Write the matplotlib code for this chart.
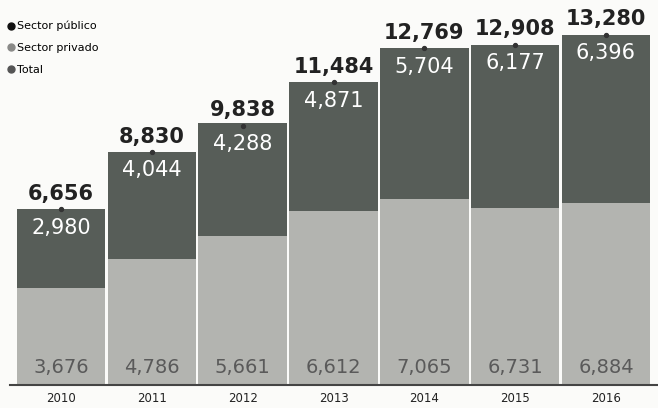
import matplotlib
matplotlib.use("Agg")
from matplotlib import pyplot as plt
from matplotlib.lines import Line2D

years = ["2010", "2011", "2012", "2013", "2014", "2015", "2016"]
sector_privado = [3676, 4786, 5661, 6612, 7065, 6731, 6884]
sector_publico = [2980, 4044, 4288, 4871, 5704, 6177, 6396]
total = [6656, 8830, 9838, 11484, 12769, 12908, 13280]

col_priv = "#b3b4b0"
col_pub = "#575d58"
bg = "#fbfbf9"

fig = plt.figure(figsize=(6.58, 4.08), dpi=100, facecolor=bg)
ax = fig.add_axes([10 / 658, 23 / 408, 648 / 658, 385 / 408], facecolor=bg)

x = list(range(len(years)))
ax.bar(x, sector_privado, width=0.975, color=col_priv, zorder=2)
ax.bar(x, sector_publico, width=0.975, bottom=sector_privado, color=col_pub, zorder=2)
ax.scatter(x, total, s=8, color="#333333", zorder=3)

for i in x:
    ax.annotate(f"{total[i]:,}", xy=(i, total[i]), xytext=(0, 4), textcoords="offset points",
                ha="center", va="bottom", fontsize=15, fontweight="bold", color="#222222")
    ax.annotate(f"{sector_publico[i]:,}", xy=(i, total[i]), xytext=(0, -6), textcoords="offset points",
                ha="center", va="top", fontsize=15, color="white")
    ax.annotate(f"{sector_privado[i]:,}", xy=(i, 0), xytext=(0, 6), textcoords="offset points",
                ha="center", va="bottom", fontsize=14, color="#5a5a5a")

ax.set_xlim(-0.562, 6.573)
ax.set_ylim(0, 14600)
ax.set_xticks(x)
ax.set_xticklabels(years, fontsize=8.5, color="#222222")
ax.tick_params(axis="x", length=0, pad=5)
ax.set_yticks([])
for s in ["top", "right", "left"]:
    ax.spines[s].set_visible(False)
ax.spines["bottom"].set_color("#444444")
ax.spines["bottom"].set_linewidth(1.5)
ax.spines["bottom"].set_zorder(4)

handles = [
    Line2D([], [], marker="o", ls="", color="#111111", markersize=5, label="Sector público"),
    Line2D([], [], marker="o", ls="", color="#8a8a88", markersize=5, label="Sector privado"),
    Line2D([], [], marker="o", ls="", color="#555555", markersize=5, label="Total"),
]
fig.legend(handles=handles, loc="upper left", bbox_to_anchor=(0.0, 0.965), frameon=False,
           fontsize=8, handletextpad=0.1, labelspacing=1.05, borderaxespad=0.2, handlelength=0.8)

fig.savefig("out.png", dpi=100, facecolor=bg)
